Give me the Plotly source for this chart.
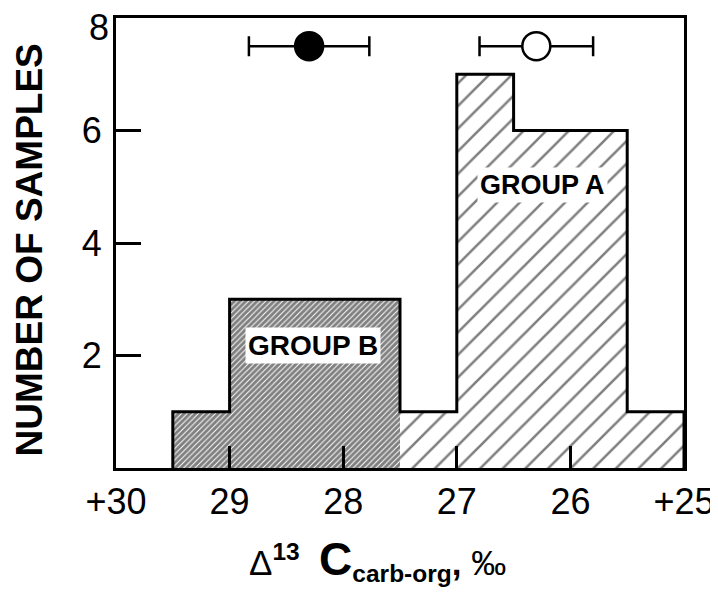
import plotly.graph_objects as go

# ---- data ----
bin_width = 0.5
group_b_upper = [29.5, 29.0, 28.5, 28.0]
group_b_counts = [1, 3, 3, 3]
group_a_upper = [27.5, 27.0, 26.5, 26.0, 25.5]
group_a_counts = [1, 7, 6, 6, 1]

mean_b, err_b = 28.3, 0.53
mean_a, err_a = 26.3, 0.5
mean_level = 7.5

x_tickvals = [30, 29, 28, 27, 26, 25]
x_ticktext = ["+30", "29", "28", "27", "26", "+25"]
y_tickvals = [2, 4, 6, 8]
y_ticktext = ["2", "4", "6", "8"]

FONT = "Liberation Sans, Arial, Helvetica, sans-serif"

fig = go.Figure()

# hatched histogram bars
fig.add_trace(go.Bar(
    x=[u - bin_width / 2 for u in group_b_upper], y=group_b_counts, width=bin_width,
    marker=dict(color="white", line=dict(width=0),
                pattern=dict(shape="/", size=4, solidity=0.75, fgcolor="black",
                             bgcolor="white", fillmode="overlay")),
    showlegend=False, hoverinfo="skip"))
fig.add_trace(go.Bar(
    x=[u - bin_width / 2 for u in group_a_upper], y=group_a_counts, width=bin_width,
    marker=dict(color="white", line=dict(width=0),
                pattern=dict(shape="/", size=16, solidity=0.16, fgcolor="black",
                             bgcolor="white", fillmode="overlay")),
    showlegend=False, hoverinfo="skip"))

# step outline of the histogram
uppers = group_b_upper + group_a_upper
counts = group_b_counts + group_a_counts
ox, oy = [uppers[0]], [0]
for u, c in zip(uppers, counts):
    ox += [u, u - bin_width]
    oy += [c, c]
ox.append(uppers[-1] - bin_width)
oy.append(0)
fig.add_trace(go.Scatter(x=ox, y=oy, mode="lines", line=dict(color="black", width=3),
                         showlegend=False, hoverinfo="skip", cliponaxis=False))

# means with error bars
fig.add_trace(go.Scatter(
    x=[mean_b], y=[mean_level], mode="markers",
    marker=dict(size=28, color="black", line=dict(color="black", width=2.5)),
    error_x=dict(type="data", array=[err_b], color="black", thickness=2.5, width=10),
    showlegend=False, hoverinfo="skip"))
fig.add_trace(go.Scatter(
    x=[mean_a], y=[mean_level], mode="markers",
    marker=dict(size=28, color="white", line=dict(color="black", width=2.5)),
    error_x=dict(type="data", array=[err_a], color="black", thickness=2.5, width=10),
    showlegend=False, hoverinfo="skip"))

# the top label sits a little below its tick, as in the original
axis_labels = [y_ticktext[i] if y_tickvals[i] != 8 else "" for i in range(len(y_tickvals))]

fig.update_layout(
    width=710, height=588,
    margin=dict(l=108, r=34, t=10, b=128, autoexpand=False),
    paper_bgcolor="white", plot_bgcolor="white",
    bargap=0, barmode="overlay",
    font=dict(family=FONT, color="black"),
    xaxis=dict(range=[30, 25], autorange=False, tickvals=x_tickvals, ticktext=x_ticktext,
               ticks="inside", ticklen=22, tickwidth=2.5, tickcolor="black",
               showline=True, linecolor="black", linewidth=3, mirror=True,
               showgrid=False, zeroline=False, layer="above traces", automargin=False,
               ticklabeloverflow="allow",
               tickfont=dict(size=36, family=FONT, color="black")),
    yaxis=dict(range=[0, 8], autorange=False, tickvals=y_tickvals, ticktext=axis_labels,
               ticks="inside", ticklen=25, tickwidth=2.5, tickcolor="black",
               showline=True, linecolor="black", linewidth=3, mirror=True,
               showgrid=False, zeroline=False, layer="above traces", automargin=False,
               ticklabeloverflow="allow", ticklabelstandoff=4,
               tickfont=dict(size=36, family=FONT, color="black")),
    annotations=[
        dict(x=0, y=y_tickvals[-1] - 0.17, xref="paper", yref="y", text=y_ticktext[-1],
             showarrow=False, xanchor="right", yanchor="middle", xshift=-5,
             font=dict(size=36, family=FONT, color="black")),
        dict(x=28.27, y=2.18, xref="x", yref="y", text="<b>GROUP B</b>", showarrow=False,
             font=dict(size=28, family=FONT, color="black"), bgcolor="white", borderpad=2),
        dict(x=26.25, y=5.03, xref="x", yref="y", text="<b>GROUP A</b>", showarrow=False,
             font=dict(size=27, family=FONT, color="black"), bgcolor="white", borderpad=2),
        dict(x=-0.152, y=0.485, xref="paper", yref="paper", text="<b>NUMBER OF SAMPLES</b>",
             textangle=-90, showarrow=False, xanchor="center", yanchor="middle",
             font=dict(size=37, family=FONT, color="black")),
        dict(x=0.46, y=-0.205, xref="paper", yref="paper",
             text=('Δ<sup><b>13</b></sup>  <span style="font-size:46px;font-weight:bold">C</span>'
                   '<sub><b>carb-org</b></sub><b>,</b> ‰'),
             showarrow=False, xanchor="center", yanchor="middle",
             font=dict(size=35, family=FONT, color="black")),
    ],
)

fig.write_html("out.html")
